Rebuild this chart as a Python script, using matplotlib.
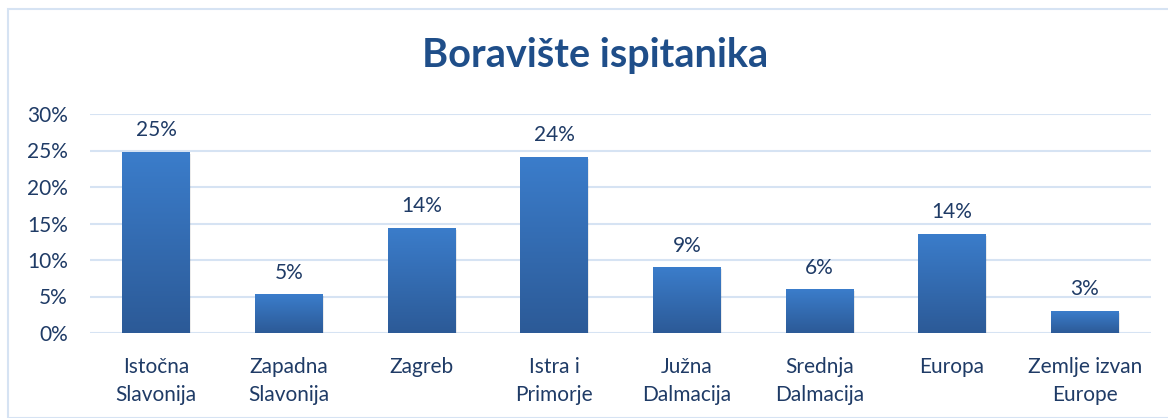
import matplotlib

matplotlib.use("Agg")
import matplotlib.pyplot as plt
import numpy as np
from matplotlib.colors import LinearSegmentedColormap
from matplotlib.patches import Rectangle

categories = ["Istočna\nSlavonija", "Zapadna\nSlavonija", "Zagreb", "Istra i\nPrimorje",
              "Južna\nDalmacija", "Srednja\nDalmacija", "Europa", "Zemlje izvan\nEurope"]
values = [24.8, 5.3, 14.4, 24.1, 9.0, 6.0, 13.6, 3.0]
yticks = [0, 5, 10, 15, 20, 25, 30]

text_color = "#1f3b66"
plt.rcParams["font.family"] = ["Lato", "DejaVu Sans"]

fig = plt.figure(figsize=(11.68, 4.18), dpi=100)
W, H = 1168, 418
ax = fig.add_axes([90 / W, 1 - 333 / H, (1151 - 90) / W, (333 - 114) / H])

# chart border
fig.patches.append(Rectangle((8 / W, 0), 1.0, 1 - 9 / H, transform=fig.transFigure,
                             fill=False, edgecolor="#d6e3f3", linewidth=1.5))

x = np.arange(len(categories))
width = 0.51
cmap = LinearSegmentedColormap.from_list("bar", ["#2c5a97", "#3b7dcb"])
grad = np.linspace(0, 1, 256).reshape(-1, 1)
bars = ax.bar(x, values, width=width, color="none", zorder=3)
for b, v in zip(bars, values):
    x0, w = b.get_x(), b.get_width()
    # soft shadow
    ax.add_patch(Rectangle((x0 + 0.01, -0.25), w, v, facecolor="#000000", alpha=0.08,
                           edgecolor="none", zorder=2))
    im = ax.imshow(grad, extent=(x0, x0 + w, 0, v), origin="lower", cmap=cmap,
                   aspect="auto", zorder=3)
    im.set_clip_path(b)
    ax.text(b.get_x() + w / 2, v + 1.6, f"{round(v):.0f}%", ha="center", va="bottom",
            fontsize=15, color=text_color)

ax.set_xlim(-0.5, len(categories) - 0.5)
ax.set_ylim(0, 30)
ax.set_yticks(yticks)
ax.set_yticklabels([f"{t}%" for t in yticks])
ax.set_xticks(x)
ax.set_xticklabels(categories, linespacing=1.55, va="top")
ax.tick_params(axis="both", length=0, labelsize=15, colors=text_color)
ax.tick_params(axis="x", pad=17)
ax.tick_params(axis="y", pad=16)
ax.yaxis.grid(True, color="#d6e3f3", linewidth=1.5, zorder=0)
ax.set_axisbelow(True)
for s in ax.spines.values():
    s.set_visible(False)

fig.text(595 / W, 1 - 56 / H, "Boravište ispitanika", ha="center", va="center",
         fontsize=28.5, fontweight="bold", color="#1f4e89")

fig.savefig("out.png", dpi=100)
